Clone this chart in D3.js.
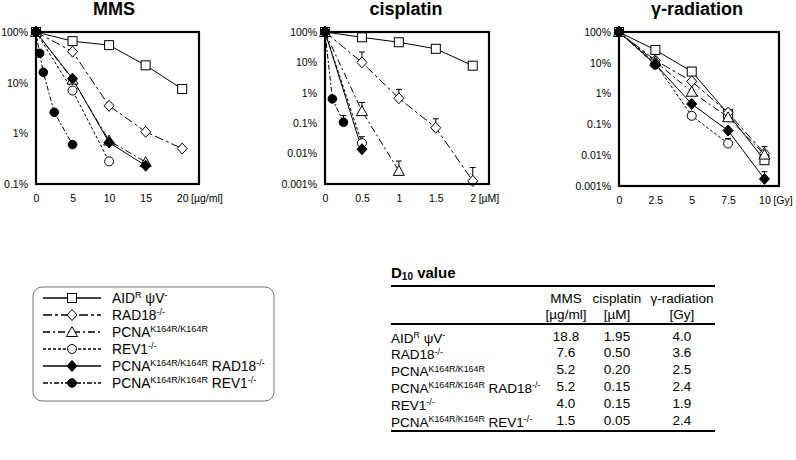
<!DOCTYPE html>
<html><head><meta charset="utf-8">
<script src="https://cdn.jsdelivr.net/npm/d3@7"></script>
<style>
body{margin:0;background:#fff}
text{font-family:"Liberation Sans",Arial,Helvetica,sans-serif;fill:#000}
</style>
</head><body>
<svg id="c" width="796" height="460"></svg>
<script>
// ---------------- DATA ----------------
// strain labels: [text, isSuperscript]
const strainLabels = [
  [["AID"],["R",1],[" ψV"],["-",1]],
  [["RAD18"],["-/-",1]],
  [["PCNA"],["K164R/K164R",1]],
  [["REV1"],["-/-",1]],
  [["PCNA"],["K164R/K164R",1],[" RAD18"],["-/-",1]],
  [["PCNA"],["K164R/K164R",1],[" REV1"],["-/-",1]]
];
// MMS (µg/ml) survival %
const mmsX_AID=[0,5,10,15,20],  mmsY_AID=[100,66,55,22,7.5];
const mmsX_RAD18=[0,5,10,15,20], mmsY_RAD18=[100,41,3.5,1.07,0.5];
const mmsX_PCNA=[0,5,10,15],    mmsY_PCNA=[100,11.5,0.72,0.27];
const mmsX_REV1=[0,5,10],       mmsY_REV1=[100,7,0.28];
const mmsX_PR=[0,5,10,15],      mmsY_PR=[100,12,0.66,0.23];
const mmsX_PV=[0,0.5,1,2.5,5],  mmsY_PV=[100,38,16,2.6,0.6];
// cisplatin (µM)
const cisX_AID=[0,0.5,1,1.5,2],  cisY_AID=[100,67,46,28,7.8];
const cisX_RAD18=[0,0.5,1,1.5,2], cisY_RAD18=[100,10,0.66,0.071,0.00126], cisE_RAD18=[null,22,1.3,0.14,0.0035];
const cisX_PCNA=[0,0.5,1],       cisY_PCNA=[100,0.25,0.0027], cisE_PCNA=[null,0.48,0.0057];
const cisX_REV1=[0,0.5],         cisY_REV1=[100,0.022], cisE_REV1=[null,0.036];
const cisX_PR=[0,0.5],           cisY_PR=[100,0.014];
const cisX_PV=[0,0.1,0.25],      cisY_PV=[100,0.63,0.107], cisE_PV=[null,null,0.18];
// gamma-radiation (Gy)
const gX_AID=[0,2.5,5,7.5,10],   gY_AID=[100,26,5.2,0.22,0.0069];
const gX_RAD18=[0,2.5,5,7.5,10], gY_RAD18=[100,12,2.5,0.24,0.0115], gE_RAD18=[null,null,null,null,0.019];
const gX_PCNA=[0,2.5,5,7.5,10],  gY_PCNA=[100,11,1.15,0.17,0.0105];
const gX_REV1=[0,2.5,5,7.5],     gY_REV1=[100,9.5,0.19,0.024], gE_REV1=[null,null,null,0.035];
const gX_PR=[0,2.5,5,7.5,10],    gY_PR=[100,9,0.46,0.063,0.0017], gE_PR=[null,null,null,null,0.0029];
const gX_PV=[0,2.5],             gY_PV=[100,8.5];
// axis ticks
const mmsXTicks=[0,5,10,15,20], cisXTicks=[0,0.5,1,1.5,2], gXTicks=[0,2.5,5,7.5,10];
const mmsYTicks=[100,10,1,0.1], cisYTicks=[100,10,1,0.1,0.01,0.001], gYTicks=[100,10,1,0.1,0.01,0.001];
const yTickLabels={100:"100%",10:"10%",1:"1%",0.1:"0.1%",0.01:"0.01%",0.001:"0.001%"};
// D10 table
const tableOrder=[0,1,2,4,3,5];
const d10MMS=["18.8","7.6","5.2","5.2","4.0","1.5"];
const d10Cis=["1.95","0.50","0.20","0.15","0.15","0.05"];
const d10Gy=["4.0","3.6","2.5","2.4","1.9","2.4"];

// ---------------- DRAW ----------------
const svg=d3.select("#c");
const styles=[
  {m:"square",dash:null},
  {m:"diamond",dash:"9,3,3,3"},
  {m:"triangle",dash:"7,3,2,3"},
  {m:"circle",dash:"3,2"},
  {m:"fdiamond",dash:null},
  {m:"fcircle",dash:"5,2,2,2"}
];
function marker(g,type,x,y){
  if(type==="square") g.append("rect").attr("x",x-4.5).attr("y",y-4.5).attr("width",9).attr("height",9).attr("fill","#fff").attr("stroke","#000");
  else if(type==="diamond") g.append("path").attr("d",`M${x},${y-5.5}L${x+5},${y}L${x},${y+5.5}L${x-5},${y}Z`).attr("fill","#fff").attr("stroke","#000");
  else if(type==="fdiamond") g.append("path").attr("d",`M${x},${y-5.5}L${x+5},${y}L${x},${y+5.5}L${x-5},${y}Z`).attr("fill","#000").attr("stroke","#000");
  else if(type==="triangle") g.append("path").attr("d",`M${x},${y-5.5}L${x+5.5},${y+4.5}L${x-5.5},${y+4.5}Z`).attr("fill","#fff").attr("stroke","#000");
  else if(type==="circle") g.append("circle").attr("cx",x).attr("cy",y).attr("r",4.5).attr("fill","#fff").attr("stroke","#000");
  else if(type==="fcircle") g.append("circle").attr("cx",x).attr("cy",y).attr("r",4.3).attr("fill","#000").attr("stroke","#000");
}
function richText(t,parts,size,supSize){
  let prevSup=false;
  parts.forEach(p=>{
    const ts=t.append("tspan").text(p[0]);
    if(p[1]){ts.attr("font-size",supSize).attr("dy",prevSup?0:-4.5);prevSup=true;}
    else{ts.attr("font-size",size); if(prevSup) ts.attr("dy",4.5); prevSup=false;}
  });
}
const panels=[
  {title:"MMS",unit:"[µg/ml]",x0:36,x1:199,y0:32,y1:184,xmax:22.3,ymin:0.1,xt:mmsXTicks,yt:mmsYTicks,tcx:114,
   s:[[mmsX_AID,mmsY_AID],[mmsX_RAD18,mmsY_RAD18],[mmsX_PCNA,mmsY_PCNA],[mmsX_REV1,mmsY_REV1],[mmsX_PR,mmsY_PR],[mmsX_PV,mmsY_PV]]},
  {title:"cisplatin",unit:"[µM]",x0:325,x1:489,y0:32,y1:184,xmax:2.22,ymin:0.001,xt:cisXTicks,yt:cisYTicks,tcx:406,
   s:[[cisX_AID,cisY_AID],[cisX_RAD18,cisY_RAD18,cisE_RAD18],[cisX_PCNA,cisY_PCNA,cisE_PCNA],[cisX_REV1,cisY_REV1,cisE_REV1],[cisX_PR,cisY_PR],[cisX_PV,cisY_PV,cisE_PV]]},
  {title:"γ-radiation",unit:"[Gy]",x0:619,x1:779,y0:32,y1:186,xmax:11,ymin:0.001,xt:gXTicks,yt:gYTicks,tcx:697,
   s:[[gX_AID,gY_AID],[gX_RAD18,gY_RAD18,gE_RAD18],[gX_PCNA,gY_PCNA],[gX_REV1,gY_REV1,gE_REV1],[gX_PR,gY_PR,gE_PR],[gX_PV,gY_PV]]}
];
panels.forEach(P=>{
  const x=d3.scaleLinear().domain([0,P.xmax]).range([P.x0,P.x1]);
  const y=d3.scaleLog().domain([P.ymin,100]).range([P.y1,P.y0]);
  const g=svg.append("g");
  g.append("text").attr("x",P.tcx).attr("y",15).attr("text-anchor","middle").attr("font-size",18).attr("font-weight","bold").text(P.title);
  const ya=g.append("g").attr("transform",`translate(${P.x0},0)`)
    .call(d3.axisLeft(y).tickValues(P.yt).tickFormat(v=>yTickLabels[v]).tickSize(0).tickPadding(8));
  ya.select(".domain").remove();
  ya.selectAll("text").attr("font-size",10.5).attr("font-family","Liberation Sans, Arial, sans-serif");
  const xa=g.append("g").attr("transform",`translate(0,${P.y1})`)
    .call(d3.axisBottom(x).tickValues(P.xt).tickFormat(d=>String(d)).tickSize(0).tickPadding(11));
  xa.select(".domain").remove();
  xa.selectAll("text").attr("font-size",10.5).attr("font-family","Liberation Sans, Arial, sans-serif");
  const last=xa.selectAll(".tick text").nodes().pop();
  const w=last.getComputedTextLength();
  const lx=x(P.xt[P.xt.length-1]);
  g.append("text").attr("x",lx+w/2+3).attr("y",P.y1+11).attr("dy","0.71em").attr("font-size",10.5).text(P.unit);
  const line=d3.line().x(d=>x(d[0])).y(d=>y(d[1]));
  P.s.forEach((s,i)=>{
    const pts=s[0].map((v,j)=>[v,s[1][j]]);
    g.append("path").attr("d",line(pts)).attr("fill","none").attr("stroke","#000").attr("stroke-width",1)
      .attr("stroke-dasharray",styles[i].dash);
  });
  P.s.forEach((s,i)=>{
    if(!s[2])return;
    s[2].forEach((e,j)=>{
      if(e==null)return;
      const xx=x(s[0][j]);
      g.append("line").attr("x1",xx).attr("x2",xx).attr("y1",y(s[1][j])).attr("y2",y(e)).attr("stroke","#000");
      g.append("line").attr("x1",xx-3).attr("x2",xx+3).attr("y1",y(e)).attr("y2",y(e)).attr("stroke","#000");
    });
  });
  P.s.forEach((s,i)=>{
    s[0].forEach((v,j)=>marker(g,styles[i].m,x(v),y(s[1][j])));
  });
  g.append("rect").attr("x",P.x0).attr("y",P.y0).attr("width",P.x1-P.x0).attr("height",P.y1-P.y0)
    .attr("fill","none").attr("stroke","#000").attr("stroke-width",2.2);
});

// ---------------- LEGEND ----------------
const lg=svg.append("g");
lg.append("rect").attr("x",33).attr("y",287).attr("width",241).attr("height",114).attr("rx",9)
  .attr("fill","#fff").attr("stroke","#777").attr("stroke-width",1);
strainLabels.forEach((lab,i)=>{
  const yy=298+i*17;
  lg.append("line").attr("x1",43).attr("x2",101).attr("y1",yy).attr("y2",yy).attr("stroke","#000").attr("stroke-width",1.4)
    .attr("stroke-dasharray",styles[i].dash);
  marker(lg,styles[i].m,72,yy);
  const t=lg.append("text").attr("x",112).attr("y",yy+4.5);
  richText(t,lab,13.8,9);
});

// ---------------- TABLE ----------------
const tg=svg.append("g");
const tt=tg.append("text").attr("x",391).attr("y",278).attr("font-weight","bold");
tt.append("tspan").attr("font-size",15).text("D");
tt.append("tspan").attr("font-size",10).attr("dy",2).text("10");
tt.append("tspan").attr("font-size",15).attr("dy",-2).text(" value");
[286,324,431].forEach(v=>tg.append("line").attr("x1",391).attr("x2",715).attr("y1",v).attr("y2",v).attr("stroke","#000").attr("stroke-width",2));
const colX=[566,617,682];
const head1=["MMS","cisplatin","γ-radiation"], head2=["[µg/ml]","[µM]","[Gy]"];
head1.forEach((h,k)=>{
  tg.append("text").attr("x",colX[k]).attr("y",303).attr("text-anchor","middle").attr("font-size",13.5).text(h);
  tg.append("text").attr("x",colX[k]).attr("y",319).attr("text-anchor","middle").attr("font-size",13.5).text(head2[k]);
});
tableOrder.forEach((si,r)=>{
  const yy=342.5+r*16.8;
  const t=tg.append("text").attr("x",391).attr("y",yy);
  richText(t,strainLabels[si],13.5,8.8);
  [d10MMS,d10Cis,d10Gy].forEach((col,k)=>{
    tg.append("text").attr("x",colX[k]).attr("y",yy-2).attr("text-anchor","middle").attr("font-size",13.5).text(col[r]);
  });
});
</script>
</body></html>
